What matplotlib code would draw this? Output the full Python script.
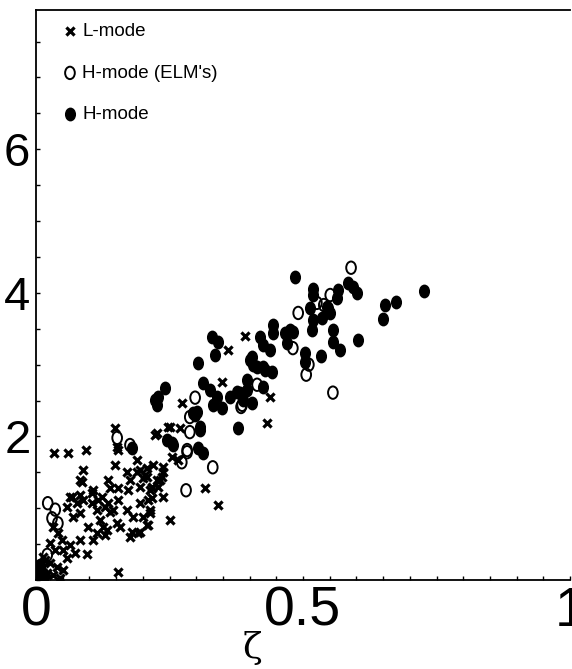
import matplotlib
matplotlib.use("Agg")
import matplotlib.pyplot as plt
from matplotlib import font_manager
from matplotlib.path import Path
from matplotlib.transforms import Affine2D
from matplotlib.ticker import MultipleLocator, FixedLocator

# L-mode (crosses)
lmode_x = [0.391, 0.360, 0.348, 0.438, 0.433, 0.273, 0.247, 0.270, 0.223, 0.255,
           0.266, 0.219, 0.238, 0.232, 0.217, 0.316, 0.341, 0.238, 0.217, 0.213,
           0.251, 0.148, 0.154, 0.034, 0.060, 0.094, 0.088, 0.148, 0.086, 0.170,
           0.176, 0.135, 0.107, 0.154, 0.195, 0.208, 0.064, 0.077, 0.088, 0.058,
           0.069, 0.082, 0.105, 0.114, 0.120, 0.097, 0.125, 0.144, 0.152, 0.170,
           0.182, 0.195, 0.213, 0.210, 0.157, 0.114, 0.129, 0.107, 0.180, 0.195,
           0.176, 0.210, 0.200, 0.073, 0.096, 0.154, 0.026, 0.036, 0.049, 0.051,
           0.058, 0.013, 0.002, 0.013, 0.026, 0.039, 0.051, 0.021, 0.007, 0.045,
           0.032, 0.004, 0.032, 0.041, 0.189, 0.204, 0.227, 0.195, 0.213, 0.228,
           0.172, 0.139, 0.124, 0.116, 0.135, 0.139, 0.154, 0.152, 0.189, 0.208,
           0.227, 0.238, 0.236, 0.217, 0.208, 0.191, 0.251, 0.082, 0.067, 0.082,
           0.105, 0.129, 0.200, 0.133, 0.017, 0.064, 0.082]
lmode_y = [3.40, 3.21, 2.76, 2.55, 2.19, 2.47, 2.13, 2.12, 2.02, 1.71,
           1.67, 1.60, 1.51, 1.39, 1.30, 1.28, 1.05, 1.16, 1.14, 0.93,
           0.84, 2.12, 1.81, 1.77, 1.77, 1.81, 1.53, 1.60, 1.37, 1.51,
           1.39, 1.39, 1.25, 1.28, 1.53, 1.44, 1.16, 1.07, 1.11, 1.02,
           0.88, 0.93, 1.07, 0.98, 0.84, 0.74, 0.74, 0.98, 0.79, 0.98,
           0.88, 1.07, 0.98, 1.11, 0.74, 0.66, 0.63, 0.56, 0.67, 0.67,
           0.60, 0.77, 0.88, 0.38, 0.36, 0.11, 0.52, 0.42, 0.56, 0.42,
           0.31, 0.32, 0.24, 0.18, 0.24, 0.18, 0.14, 0.10, 0.04, 0.03,
           0.07, 0.14, 0.74, 0.66, 1.51, 1.46, 1.39, 1.30, 1.25, 1.30,
           1.25, 1.28, 1.16, 1.11, 1.07, 0.95, 1.11, 1.85, 1.67, 1.56,
           2.05, 1.57, 1.44, 1.28, 0.77, 0.66, 2.13, 1.39, 1.16, 1.18,
           1.21, 1.02, 1.42, 0.70, 0.28, 0.49, 0.56]

# H-mode with ELMs (open circles)
elm_x = [0.590, 0.551, 0.491, 0.526, 0.539, 0.481, 0.511, 0.506, 0.556, 0.414,
         0.384, 0.298, 0.386, 0.288, 0.288, 0.283, 0.273, 0.331, 0.281, 0.283,
         0.152, 0.176, 0.022, 0.030, 0.041, 0.036, 0.021]
elm_y = [4.35, 3.97, 3.72, 3.86, 3.83, 3.23, 3.00, 2.86, 2.61, 2.72,
         2.41, 2.54, 2.44, 2.27, 2.06, 1.81, 1.64, 1.57, 1.25, 1.78,
         1.98, 1.88, 1.07, 0.86, 0.79, 0.98, 0.35]

# H-mode (filled circles)
hmode_x = [0.485, 0.519, 0.519, 0.566, 0.564, 0.584, 0.594, 0.601, 0.654, 0.674,
           0.650, 0.727, 0.513, 0.547, 0.551, 0.519, 0.517, 0.536, 0.444, 0.444,
           0.419, 0.425, 0.438, 0.466, 0.476, 0.481, 0.470, 0.556, 0.556, 0.569,
           0.603, 0.504, 0.504, 0.534, 0.404, 0.406, 0.425, 0.442, 0.425, 0.404,
           0.330, 0.341, 0.335, 0.303, 0.401, 0.414, 0.429, 0.395, 0.313, 0.326,
           0.339, 0.376, 0.388, 0.242, 0.228, 0.223, 0.227, 0.331, 0.348, 0.378,
           0.298, 0.307, 0.303, 0.313, 0.245, 0.255, 0.180, 0.257, 0.301, 0.363,
           0.382, 0.395, 0.294, 0.307, 0.545, 0.007, 0.004, 0.015]
hmode_y = [4.22, 4.06, 3.97, 4.04, 3.93, 4.14, 4.08, 4.00, 3.83, 3.87,
           3.64, 4.03, 3.79, 3.79, 3.72, 3.62, 3.48, 3.65, 3.55, 3.44,
           3.39, 3.28, 3.21, 3.44, 3.48, 3.46, 3.30, 3.48, 3.32, 3.21,
           3.34, 3.16, 3.04, 3.12, 3.11, 3.00, 2.97, 2.90, 2.69, 2.47,
           3.39, 3.32, 3.14, 3.02, 3.07, 2.97, 2.93, 2.79, 2.75, 2.65,
           2.55, 2.62, 2.51, 2.68, 2.55, 2.51, 2.44, 2.44, 2.40, 2.12,
           2.30, 2.13, 1.84, 1.77, 1.95, 1.91, 1.84, 1.88, 2.34, 2.55,
           2.61, 2.65, 2.33, 2.09, 3.80, 0.21, 0.11, 0.06]

# 細身の書体が入っていればそれを使う
names = {f.name for f in font_manager.fontManager.ttflist}
if "Liberation Sans Narrow" in names:
    NARROW = dict(family=["Liberation Sans Narrow", "DejaVu Sans"], stretch="normal")
else:
    NARROW = dict(family=["Liberation Sans", "DejaVu Sans"], stretch="condensed")

# slightly tall ellipse, like the scanned markers
ellipse = Path.unit_circle().transformed(Affine2D().scale(0.78, 1.0))

fig = plt.figure(figsize=(5.72, 6.69), dpi=100)
ax = fig.add_axes([36 / 572, 89 / 669, 534 / 572, 570 / 669])

ax.scatter(lmode_x, lmode_y, marker="x", s=34, color="black", linewidths=2.3,
           label="L-mode", zorder=2)
ax.scatter(elm_x, elm_y, marker=ellipse, s=80, facecolors="none",
           edgecolors="black", linewidths=1.4, label="H-mode (ELM's)", zorder=3)
ax.scatter(hmode_x, hmode_y, marker=ellipse, s=80, color="black",
           label="H-mode", zorder=4)

ax.set_xlim(0, 1.0)
ax.set_ylim(0, 7.94)
ax.spines["right"].set_visible(False)
for s in ["left", "bottom", "top"]:
    ax.spines[s].set_linewidth(1.3)

ax.xaxis.set_major_locator(FixedLocator([0, 0.5, 1.0]))
ax.xaxis.set_minor_locator(MultipleLocator(0.05))
ax.yaxis.set_major_locator(FixedLocator([2, 4, 6]))
ax.yaxis.set_minor_locator(MultipleLocator(0.5))
ax.set_xticklabels(["0", "0.5", "1"])
ax.tick_params(axis="both", which="both", direction="in", length=3, width=1,
               top=False, right=False)
ax.tick_params(axis="x", pad=4)
ax.tick_params(axis="y", pad=4)
for lbl in ax.get_xticklabels():
    lbl.set_family(NARROW["family"])
    lbl.set_stretch(NARROW["stretch"])
    lbl.set_fontsize(40)
for lbl in ax.get_yticklabels():
    lbl.set_family(NARROW["family"])
    lbl.set_stretch(NARROW["stretch"])
    lbl.set_fontsize(34)

leg = ax.legend(loc="upper left", bbox_to_anchor=(0.032, 0.99), frameon=False,
                handletextpad=0.15, labelspacing=1.3, handlelength=1.0,
                borderaxespad=0, prop={"family": NARROW["family"],
                                       "stretch": NARROW["stretch"], "size": 13.5})

fig.text(252 / 572, 1 - 648 / 669, "ζ", fontsize=26, ha="center", va="center",
         family=["DejaVu Serif"])

fig.savefig("out.png", dpi=100)
